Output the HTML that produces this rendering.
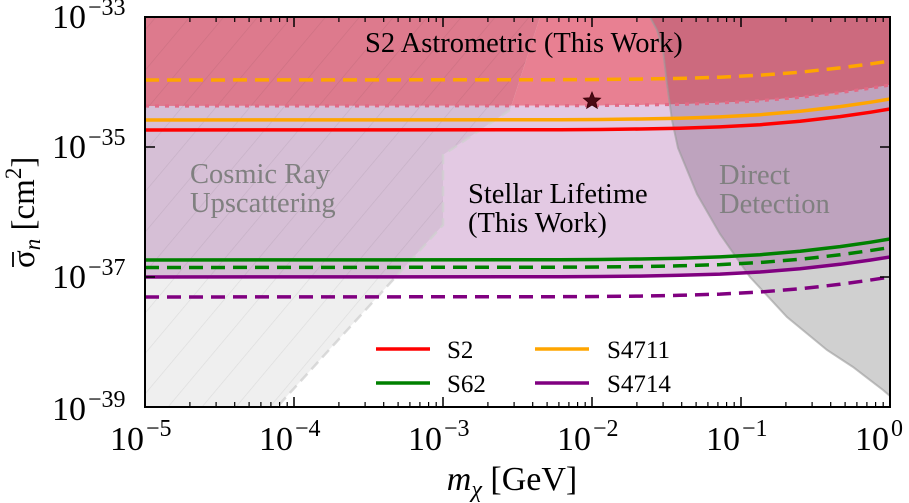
<!DOCTYPE html>
<html>
<head>
<meta charset="utf-8">
<style>
  html, body { margin: 0; padding: 0; background: #ffffff; }
  svg { display: block; }
  svg text { font-family: "Liberation Serif", "DejaVu Serif", serif; }
</style>
</head>
<body>
<svg width="909" height="503" viewBox="0 0 909 503" xmlns="http://www.w3.org/2000/svg" font-family="Liberation Serif, DejaVu Serif, serif">
  <defs>
    <clipPath id="plot"><rect x="145" y="17" width="745" height="390"/></clipPath>
    <clipPath id="cA"><path d="M145,17 L890,17 L890,85 L870,88.3 L840,92.6 L800,97.3 L760,100.7 L720,102.9 L680,104.3 L640,105 L600,105.5 L560,105.7 L145,106 Z"/></clipPath>
    <clipPath id="cB"><path d="M145,106 L560,105.7 L600,105.5 L640,105 L680,104.3 L720,102.9 L760,100.7 L800,97.3 L840,92.6 L870,88.3 L890,85 L890,257 L870,260.1 L840,264.3 L800,268.8 L760,272 L720,274.1 L680,275.3 L640,276.1 L600,276.5 L560,276.7 L145,277 Z"/></clipPath>
    <clipPath id="cC"><path d="M145,17 L540,17 L510,110 L443,155 L443,225 L277,407 L145,407 Z"/></clipPath>
    <pattern id="hatch" patternUnits="userSpaceOnUse" width="26" height="26" patternTransform="rotate(40)">
      <line x1="0" y1="0" x2="0" y2="26" stroke="rgba(0,0,0,0.08)" stroke-width="1.3"/>
    </pattern>
  </defs>

  <rect x="0" y="0" width="909" height="503" fill="#ffffff"/>

  <g clip-path="url(#plot)">
    <path d="M145,17 L890,17 L890,85 L870,88.3 L840,92.6 L800,97.3 L760,100.7 L720,102.9 L680,104.3 L640,105 L600,105.5 L560,105.7 L145,106 Z" fill="#e88092"/>
    <path d="M145,106 L560,105.7 L600,105.5 L640,105 L680,104.3 L720,102.9 L760,100.7 L800,97.3 L840,92.6 L870,88.3 L890,85 L890,257 L870,260.1 L840,264.3 L800,268.8 L760,272 L720,274.1 L680,275.3 L640,276.1 L600,276.5 L560,276.7 L145,277 Z" fill="#e3c9e3"/>

    <path d="M145,17 L540,17 L510,110 L443,155 L443,225 L277,407 L145,407 Z" fill="#efefef"/>
    <path d="M650,17 L890,17 L890,396 L883,390 L853,367 L827,350 L787,317 L750,277 L720,234 L697,194 L678,148 L672,120 L667,84 L663,50 L657,30 Z" fill="#d0d0d0"/>

    <g clip-path="url(#cA)">
      <path d="M145,17 L540,17 L510,110 L443,155 L443,225 L277,407 L145,407 Z" fill="#dd7a8d"/>
      <path d="M650,17 L890,17 L890,396 L883,390 L853,367 L827,350 L787,317 L750,277 L720,234 L697,194 L678,148 L672,120 L667,84 L663,50 L657,30 Z" fill="#cc6a7e"/>
    </g>
    <g clip-path="url(#cB)">
      <path d="M145,17 L540,17 L510,110 L443,155 L443,225 L277,407 L145,407 Z" fill="#d6bfd6"/>
      <path d="M650,17 L890,17 L890,396 L883,390 L853,367 L827,350 L787,317 L750,277 L720,234 L697,194 L678,148 L672,120 L667,84 L663,50 L657,30 Z" fill="#bea3be"/>
    </g>

    <g clip-path="url(#cC)">
      <rect x="145" y="17" width="400" height="390" fill="url(#hatch)"/>
    </g>

    <path d="M510,110 L443,155 L443,225 L277,407" fill="none" stroke="#cfcfcf" stroke-opacity="0.75" stroke-width="2.5" stroke-dasharray="10 6"/>
    <path d="M650,17 L657,30 L663,50 L667,84 L672,120 L678,148 L697,194 L720,234 L750,277 L787,317 L827,350 L853,367 L883,390 L890,396" fill="none" stroke="#9a9a9a" stroke-opacity="0.6" stroke-width="2"/>

    <path d="M145,106 L560,105.7 L600,105.5 L640,105 L680,104.3 L720,102.9 L760,100.7 L800,97.3 L840,92.6 L870,88.3 L890,85" fill="none" stroke="#e26a86" stroke-width="3.2" stroke-dasharray="4 6"/>

    <path d="M145,80 L560,79.7 L600,79.5 L640,79.1 L680,78.4 L720,77.2 L760,75.2 L800,72.2 L840,67.9 L870,64 L890,61" fill="none" stroke="#ffa500" stroke-width="3.5" stroke-dasharray="14 8"/>
    <path d="M145,120 L560,119.7 L600,119.5 L640,119 L680,118.3 L720,116.9 L760,114.7 L800,111.3 L840,106.6 L870,102.3 L890,99" fill="none" stroke="#ffa500" stroke-width="3.5"/>
    <path d="M145,130 L560,129.7 L600,129.5 L640,129 L680,128.3 L720,126.9 L760,124.7 L800,121.3 L840,116.6 L870,112.3 L890,109" fill="none" stroke="#ff0000" stroke-width="3.5"/>
    <path d="M145,260 L560,259.7 L600,259.5 L640,259 L680,258.3 L720,256.9 L760,254.7 L800,251.3 L840,246.6 L870,242.3 L890,239" fill="none" stroke="#008000" stroke-width="3.5"/>
    <path d="M145,267.5 L560,267.2 L600,267 L640,266.6 L680,265.8 L720,264.6 L760,262.5 L800,259.3 L840,254.8 L870,250.6 L890,247.5" fill="none" stroke="#008000" stroke-width="3.5" stroke-dasharray="14 8"/>
    <path d="M145,277 L560,276.7 L600,276.5 L640,276.1 L680,275.3 L720,274.1 L760,272 L800,268.8 L840,264.3 L870,260.1 L890,257" fill="none" stroke="#800080" stroke-width="3.5"/>
    <path d="M145,297 L560,296.7 L600,296.5 L640,296.1 L680,295.3 L720,294.1 L760,292 L800,288.8 L840,284.3 L870,280.1 L890,277" fill="none" stroke="#800080" stroke-width="3.5" stroke-dasharray="14 8"/>

    <polygon points="592,92 594.35,97.76 600.56,98.22 595.8,102.24 597.29,108.28 592,105 586.71,108.28 588.2,102.24 583.44,98.22 589.65,97.76" fill="#4a0a14" stroke="#3a0008" stroke-width="0.8"/>
  </g>

  <text x="365" y="52" font-size="28.5" font-family="Liberation Serif, serif" fill="#000">S2 Astrometric (This Work)</text>
  <text x="468" y="203" font-size="28.5" font-family="Liberation Serif, serif" fill="#000">Stellar Lifetime</text>
  <text x="468" y="232" font-size="28.5" font-family="Liberation Serif, serif" fill="#000">(This Work)</text>
  <text x="190" y="183" font-size="28.5" font-family="Liberation Serif, serif" fill="#808080">Cosmic Ray</text>
  <text x="190" y="212" font-size="28.5" font-family="Liberation Serif, serif" fill="#808080">Upscattering</text>
  <text x="719" y="184" font-size="28.5" font-family="Liberation Serif, serif" fill="#808080">Direct</text>
  <text x="719" y="213" font-size="28.5" font-family="Liberation Serif, serif" fill="#808080">Detection</text>

  <line x1="376" y1="349" x2="430" y2="349" stroke="#ff0000" stroke-width="3.5"/>
  <line x1="376" y1="383" x2="430" y2="383" stroke="#008000" stroke-width="3.5"/>
  <line x1="535" y1="349" x2="589" y2="349" stroke="#ffa500" stroke-width="3.5"/>
  <line x1="535" y1="383" x2="589" y2="383" stroke="#800080" stroke-width="3.5"/>
  <text x="447" y="358" font-size="25" font-family="Liberation Serif, serif">S2</text>
  <text x="447" y="392" font-size="25" font-family="Liberation Serif, serif">S62</text>
  <text x="607" y="358" font-size="25" font-family="Liberation Serif, serif">S4711</text>
  <text x="607" y="392" font-size="25" font-family="Liberation Serif, serif">S4714</text>

  <rect x="145" y="17" width="745" height="390" fill="none" stroke="#000" stroke-width="2"/>

  <path d="M294,407 v-10 M443,407 v-10 M592,407 v-10 M741,407 v-10
           M294,17 v10 M443,17 v10 M592,17 v10 M741,17 v10
           M145,147 h10 M145,277 h10 M890,147 h-10 M890,277 h-10" stroke="#000" stroke-width="1.5" fill="none"/>
  <path d="M189.9,407v-5M216.1,407v-5M234.7,407v-5M249.1,407v-5M260.9,407v-5M270.9,407v-5M279.6,407v-5M287.2,407v-5
           M338.9,407v-5M365.1,407v-5M383.7,407v-5M398.1,407v-5M409.9,407v-5M419.9,407v-5M428.6,407v-5M436.2,407v-5
           M487.9,407v-5M514.1,407v-5M532.7,407v-5M547.1,407v-5M558.9,407v-5M568.9,407v-5M577.6,407v-5M585.2,407v-5
           M636.9,407v-5M663.1,407v-5M681.7,407v-5M696.1,407v-5M707.9,407v-5M717.9,407v-5M726.6,407v-5M734.2,407v-5
           M785.9,407v-5M812.1,407v-5M830.7,407v-5M845.1,407v-5M856.9,407v-5M866.9,407v-5M875.6,407v-5M883.2,407v-5
           M189.9,17v5M216.1,17v5M234.7,17v5M249.1,17v5M260.9,17v5M270.9,17v5M279.6,17v5M287.2,17v5
           M338.9,17v5M365.1,17v5M383.7,17v5M398.1,17v5M409.9,17v5M419.9,17v5M428.6,17v5M436.2,17v5
           M487.9,17v5M514.1,17v5M532.7,17v5M547.1,17v5M558.9,17v5M568.9,17v5M577.6,17v5M585.2,17v5
           M636.9,17v5M663.1,17v5M681.7,17v5M696.1,17v5M707.9,17v5M717.9,17v5M726.6,17v5M734.2,17v5
           M785.9,17v5M812.1,17v5M830.7,17v5M845.1,17v5M856.9,17v5M866.9,17v5M875.6,17v5M883.2,17v5"
        stroke="#000" stroke-width="1.2" fill="none"/>

  <g font-family="Liberation Serif, serif">
    <text x="52" y="28" font-size="34">10</text><text x="88" y="15" font-size="24">−33</text>
    <text x="52" y="158" font-size="34">10</text><text x="88" y="145" font-size="24">−35</text>
    <text x="52" y="288" font-size="34">10</text><text x="88" y="275" font-size="24">−37</text>
    <text x="52" y="420" font-size="34">10</text><text x="88" y="407" font-size="24">−39</text>

    <text x="110" y="450" font-size="34">10</text><text x="146" y="436" font-size="24">−5</text>
    <text x="259" y="450" font-size="34">10</text><text x="295" y="436" font-size="24">−4</text>
    <text x="408" y="450" font-size="34">10</text><text x="444" y="436" font-size="24">−3</text>
    <text x="557" y="450" font-size="34">10</text><text x="593" y="436" font-size="24">−2</text>
    <text x="706" y="450" font-size="34">10</text><text x="742" y="436" font-size="24">−1</text>
    <text x="855" y="450" font-size="34">10</text><text x="891" y="436" font-size="24">0</text>

    <text x="512" y="490" font-size="34" text-anchor="middle"><tspan font-style="italic">m</tspan><tspan font-size="24" font-style="italic" dy="7">χ</tspan><tspan dy="-7"> [GeV]</tspan></text>

    <g transform="translate(34,212) rotate(-90)">
      <text x="-56" y="0" font-size="33">σ<tspan font-style="italic" font-size="23" dy="6">n</tspan><tspan dy="-6"> [cm</tspan><tspan font-size="23" dy="-13">2</tspan><tspan dy="13">]</tspan></text>
      <line x1="-55" y1="-21" x2="-40" y2="-21" stroke="#000" stroke-width="1.8"/>
    </g>
  </g>
</svg>
</body>
</html>
